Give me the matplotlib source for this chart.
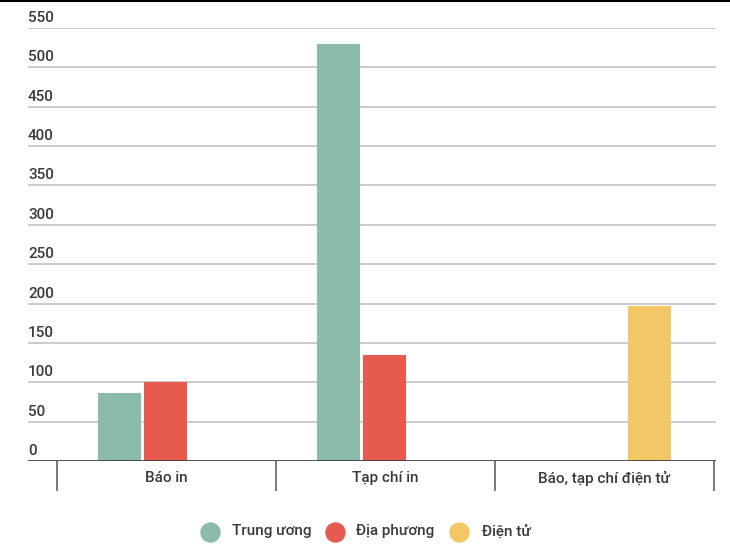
import numpy as np
import matplotlib
matplotlib.use("Agg")
import matplotlib.pyplot as plt
from matplotlib.lines import Line2D

plt.rcParams['font.family'] = ['Roboto', 'DejaVu Sans']
plt.rcParams['font.weight'] = 'medium'

categories = ["Báo in", "Tạp chí in", "Báo, tạp chí điện tử"]
series_names = ["Trung ương", "Địa phương", "Điện tử"]
trung_uong = [87, 530, np.nan]
dia_phuong = [100, 135, np.nan]
dien_tu = [np.nan, np.nan, 197]
y_ticks = [0, 50, 100, 150, 200, 250, 300, 350, 400, 450, 500, 550]

colors = ["#8BBBA9", "#E65A50", "#F2C866"]
text_color = "#3A3A3A"
fs = 11

W, H = 730, 556
fig = plt.figure(figsize=(W / 100, H / 100), dpi=100)
ax = fig.add_axes([28 / W, 1 - 461 / H, (716 - 28) / W, (461 - 28) / H])

x = np.arange(len(categories))
width = 0.196
spacing = 0.21
shift = -0.005
for i, (vals, c) in enumerate(zip([trung_uong, dia_phuong, dien_tu], colors)):
    ax.bar(x + (i - 1) * spacing + shift, vals, width=width, color=c, zorder=3)

ax.set_ylim(0, 550)
left = -0.5 - 29 / 219
right = 2.5 + 2 / 219
ax.set_xlim(left, right)

# gridlines
for v in y_ticks[1:]:
    ax.axhline(v, color="#BDBDBD", lw=1.1, zorder=1)
ax.axhline(0, color="#333333", lw=1.9, zorder=4)

# y labels above gridlines, left-aligned
ax.set_yticks([])
for v in y_ticks:
    ax.annotate(str(v), xy=(0, v), xycoords=("axes fraction", "data"),
                xytext=(0, 6), textcoords="offset pixels",
                ha="left", va="baseline", fontsize=fs, color=text_color)

# category separators as major ticks, labels as minor ticks
ax.set_xticks([-0.5, 0.5, 1.5, 2.5])
ax.set_xticklabels([])
ax.tick_params(axis="x", which="major", length=21.6, width=1.1, color="#555555", direction="out")
ax.set_xticks(x, minor=True)
ax.set_xticklabels(categories, minor=True, fontsize=fs, color=text_color)
ax.tick_params(axis="x", which="minor", length=0, pad=7)

for s in ax.spines.values():
    s.set_visible(False)

# top border line
fig.add_artist(Line2D([0, 1], [1 - 1 / H, 1 - 1 / H], color="black", lw=1.5, transform=fig.transFigure))

# legend
leg_y = 1 - 531.5 / H
marker_x = [210, 335, 459]
text_x = [231.5, 355.5, 481.5]
for name, c, mx, tx in zip(series_names, colors, marker_x, text_x):
    fig.add_artist(Line2D([mx / W], [leg_y], marker="o", markersize=13.7, color=c,
                          linestyle="none", transform=fig.transFigure))
    fig.text(tx / W, leg_y, name, ha="left", va="center", fontsize=fs, color=text_color)

fig.savefig("out.png", dpi=100)
